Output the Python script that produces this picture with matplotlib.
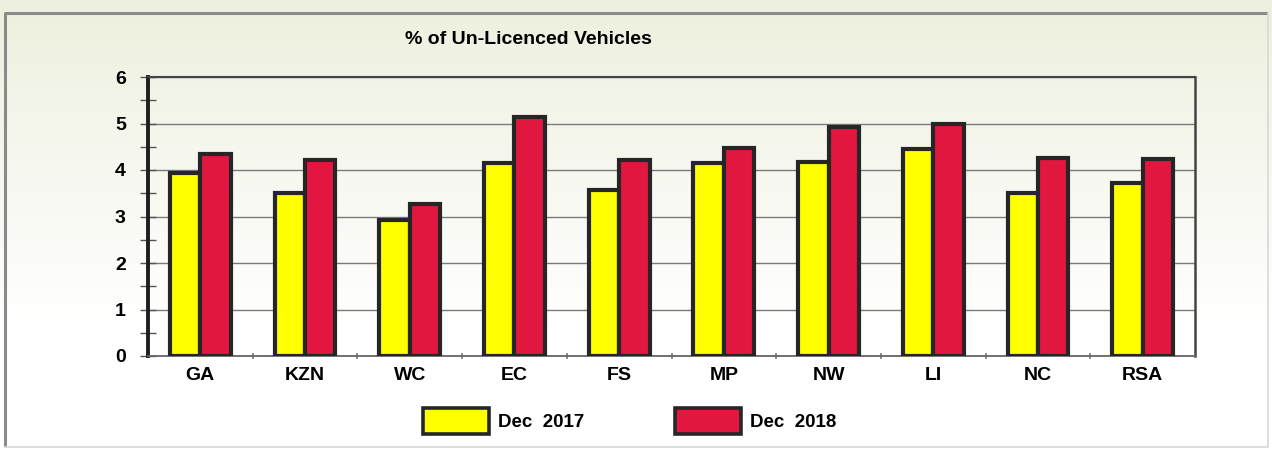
import numpy as np
import matplotlib
matplotlib.use("Agg")
import matplotlib.pyplot as plt
from matplotlib.patches import Patch
from matplotlib.ticker import MultipleLocator

categories = ["GA", "KZN", "WC", "EC", "FS", "MP", "NW", "LI", "NC", "RSA"]
dec_2017 = [3.94, 3.51, 2.93, 4.14, 3.58, 4.14, 4.17, 4.46, 3.51, 3.73]
dec_2018 = [4.35, 4.21, 3.26, 5.13, 4.21, 4.48, 4.92, 5.00, 4.26, 4.24]
series_labels = ["Dec  2017", "Dec  2018"]
title = "% of Un-Licenced Vehicles"

W, H = 1272, 450
fig = plt.figure(figsize=(W / 100, H / 100), dpi=100)
fig.patch.set_facecolor("white")

# background gradient
bg = fig.add_axes([0, 0, 1, 1], zorder=-5)
grad = np.linspace(0, 1, 256).reshape(-1, 1)
top = np.array([0.93, 0.94, 0.87])
bot = np.array([1.0, 1.0, 1.0])
t = np.clip(grad * 1.4, 0, 1)
img = (top * (1 - t) + bot * t).reshape(256, 1, 3)
bg.imshow(img, aspect="auto", extent=[0, 1, 0, 1], origin="upper")
bg.set_xlim(0, 1)
bg.set_ylim(0, 1)
bg.axis("off")
bx0, by0 = 5 / W, 1 - 447 / H
bx1, by1 = 1268 / W, 1 - 13 / H
bg.plot([bx0, bx0, bx1], [by0, by1, by1], color="#8a8a8a", lw=2.2, solid_capstyle="butt")
bg.plot([bx1, bx1, bx0], [by1, by0, by0], color="#d8d8d8", lw=1.2)

ax = fig.add_axes([148 / W, 1 - 356 / H, (1195 - 148) / W, (356 - 77) / H])
ax.patch.set_alpha(0)

x = np.arange(len(categories))
bw = 0.29
ax.bar(x - bw / 2, dec_2017, width=bw, color="#ffff00", edgecolor="#262626",
       linewidth=3.0, zorder=3, label=series_labels[0])
ax.bar(x + bw / 2, dec_2018, width=bw, color="#e2173f", edgecolor="#262626",
       linewidth=3.0, zorder=3, label=series_labels[1])

ax.set_xlim(-0.5, len(categories) - 0.5)
ax.set_ylim(0, 6)
ax.set_yticks(range(0, 7))
ax.yaxis.set_minor_locator(MultipleLocator(0.5))
ax.grid(axis="y", which="major", color="#7a7a7a", lw=1.0, zorder=1)
ax.set_axisbelow(True)

font = "Liberation Sans"
ax.set_xticks(x)
ax.set_xticklabels(categories, fontsize=14, fontweight="bold", family=font)
ax.set_xticks(np.arange(0.5, len(categories) - 0.5, 1), minor=True)
ax.tick_params(axis="x", which="major", length=0, pad=8)
ax.tick_params(axis="x", which="minor", length=4, direction="inout", color="#777777", width=1.2)
ax.tick_params(axis="y", which="both", direction="inout", length=12, width=1.0, color="#555555")
ax.tick_params(axis="y", which="major", pad=10)
for lab in ax.get_yticklabels():
    lab.set_fontsize(14)
    lab.set_fontweight("bold")
    lab.set_family(font)

ax.spines["left"].set_color("#1e1e1e")
ax.spines["left"].set_linewidth(2.8)
ax.spines["right"].set_color("#444444")
ax.spines["right"].set_linewidth(1.8)
ax.spines["top"].set_color("#444444")
ax.spines["top"].set_linewidth(1.5)
ax.spines["bottom"].set_color("#666666")
ax.spines["bottom"].set_linewidth(1.3)

fig.text(405 / W, 1 - 39 / H, title, fontsize=14, fontweight="bold",
         family=font, ha="left", va="center")

handles = [Patch(facecolor="#ffff00", edgecolor="#262626", linewidth=2.6),
           Patch(facecolor="#e2173f", edgecolor="#262626", linewidth=2.6)]
fig.legend(handles, series_labels, loc="center", bbox_to_anchor=(630 / W, 1 - 421 / H),
           ncol=2, frameon=False, handlelength=3.5, handleheight=1.8,
           columnspacing=4.85, handletextpad=0.5,
           prop={"family": font, "weight": "bold", "size": 13.5})

fig.savefig("out.png", dpi=100)
